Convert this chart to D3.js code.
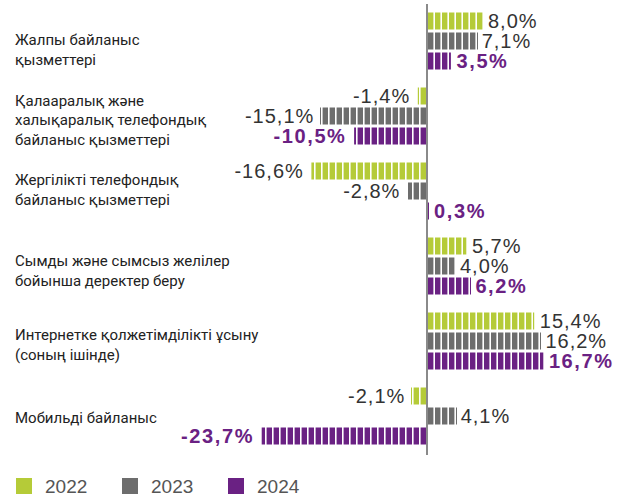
<!DOCTYPE html>
<html>
<head>
<meta charset="utf-8">
<script src="https://d3js.org/d3.v7.min.js"></script>
<style>
    body { margin: 0; background: #fff; }
    .cat { font-family: Roboto, sans-serif; font-size: 15px; fill: #222; }
    .val { font-family: "Liberation Sans", Arial, sans-serif; font-size: 20px; fill: #333; letter-spacing: 1px; }
    .val.y2024 { font-weight: bold; letter-spacing: 1.6px; fill: #6a2183; }
    .legend text { font-family: "Liberation Sans", Arial, sans-serif; font-size: 19px; fill: #555; }
</style>
</head>
<body>
<div id="chart"></div>
<script>
    // data
    var categories = [
        ["Жалпы байланыс", "қызметтері"],
        ["Қалааралық және", "халықаралық телефондық", "байланыс қызметтері"],
        ["Жергілікті телефондық", "байланыс қызметтері"],
        ["Сымды және сымсыз желілер", "бойынша деректер беру"],
        ["Интернетке қолжетімділікті ұсыну", "(соның ішінде)"],
        ["Мобильді байланыс"]
    ];
    var years = ["2022", "2023", "2024"];
    var v2022 = [8.0, -1.4, -16.6, 5.7, 15.4, -2.1];
    var v2023 = [7.1, -15.1, -2.8, 4.0, 16.2, 4.1];
    var v2024 = [3.5, -10.5, 0.3, 6.2, 16.7, -23.7];
    var colors = ["#b5cb38", "#6d6d6d", "#6a2183"];

    // labels don't sit exactly on the group centre in the original
    var labelShift = [14, 9, 4, 10, 9, 7];

    var width = 617, height = 497;
    var series = [v2022, v2023, v2024];

    var svg = d3.select("#chart").append("svg")
        .attr("width", width)
        .attr("height", height);

    var x = d3.scaleLinear().domain([-25, 20]).range([252, 567]);
    var y = d3.scaleBand().domain(d3.range(categories.length)).range([3.5, 453.5]);
    var yi = d3.scaleBand().domain(years).range([-30, 30]).paddingInner(0.15).paddingOuter(0.075);

    var rows = [];
    categories.forEach(function (c, i) {
        years.forEach(function (yr, j) {
            rows.push({ cat: i, year: yr, k: j, value: series[j][i] });
        });
    });

    var unit = x(1) - x(0);
    var gap = 1.6;

    // segmented bars, one piece per 1%
    var bars = svg.append("g");
    rows.forEach(function (d) {
        var n = Math.ceil(Math.abs(d.value) - 1e-9);
        var sign = d.value < 0 ? -1 : 1;
        var top = y(d.cat) + y.bandwidth() / 2 + yi(d.year);
        for (var s = 0; s < n; s++) {
            var a = s, b = Math.min(s + 1, Math.abs(d.value));
            var w = Math.max(1, (b - a) * unit - gap);
            var x0 = sign > 0 ? x(a) + 1 : x(0) - (a * unit) - w - 1;
            bars.append("rect")
                .attr("x", x0)
                .attr("y", top)
                .attr("width", w)
                .attr("height", yi.bandwidth())
                .attr("fill", colors[d.k]);
        }
    });

    // value labels
    svg.append("g").selectAll("text")
        .data(rows)
        .enter().append("text")
        .attr("class", function (d) { return "val y" + d.year; })
        .attr("x", function (d) { return d.value < 0 ? x(d.value) - 7 : x(d.value) + 5; })
        .attr("y", function (d) { return y(d.cat) + y.bandwidth() / 2 + yi(d.year) + yi.bandwidth() / 2; })
        .attr("dy", "0.36em")
        .attr("text-anchor", function (d) { return d.value < 0 ? "end" : "start"; })
        .text(function (d) { return d3.format(".1f")(d.value).replace(".", ",").replace("−", "-") + "%"; });

    // zero line
    svg.append("line")
        .attr("x1", x(0)).attr("x2", x(0))
        .attr("y1", 4).attr("y2", 455)
        .attr("stroke", "#8a8a8a")
        .attr("stroke-width", 2);

    // category labels
    var cat = svg.append("g").selectAll("text")
        .data(categories)
        .enter().append("text")
        .attr("class", "cat")
        .attr("x", 15)
        .attr("y", function (d, i) { return y(i) + y.bandwidth() / 2 - (d.length - 1) * 9.75 + labelShift[i]; })
        .attr("dy", "0.36em");
    cat.selectAll("tspan")
        .data(function (d) { return d; })
        .enter().append("tspan")
        .attr("x", 15)
        .attr("dy", function (d, i) { return i ? 19.5 : 0; })
        .text(function (d) { return d; });

    // legend
    var legend = svg.append("g").attr("class", "legend")
        .selectAll("g")
        .data(years)
        .enter().append("g")
        .attr("transform", function (d, i) { return "translate(" + (16 + i * 106) + ",478)"; });
    legend.append("rect")
        .attr("width", 16).attr("height", 16)
        .attr("fill", function (d, i) { return colors[i]; });
    legend.append("text")
        .attr("x", 29).attr("y", 15)
        .text(function (d) { return d; });
</script>
</body>
</html>
